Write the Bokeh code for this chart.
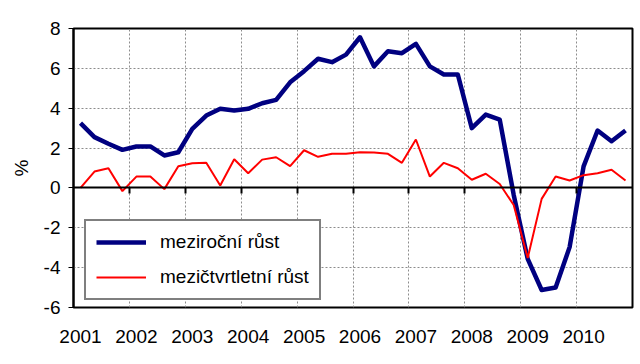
import math
from bokeh.plotting import figure
from bokeh.models import (Range1d, LinearAxis, FixedTicker, Grid, Legend, LegendItem,
                          CustomJSTickFormatter)
from bokeh.embed import file_html
from bokeh.resources import INLINE

# ---- data ----
years = ["2001", "2002", "2003", "2004", "2005", "2006", "2007", "2008", "2009", "2010"]
quarters = [f"{y} Q{q}" for y in years for q in range(1, 5)]

# meziroční růst (year-on-year growth, %)
yoy = [3.25, 2.55, 2.22, 1.91, 2.08, 2.08, 1.63, 1.79,
       2.96, 3.63, 3.97, 3.88, 3.97, 4.25, 4.42, 5.30,
       5.86, 6.48, 6.31, 6.69, 7.56, 6.10, 6.86, 6.76,
       7.23, 6.10, 5.69, 5.69, 3.00, 3.68, 3.43, -0.35,
       -3.56, -5.12, -5.00, -2.97, 1.08, 2.88, 2.34, 2.88]

# mezičtvrtletní růst (quarter-on-quarter growth, %)
qoq = [0.00, 0.82, 0.99, -0.16, 0.57, 0.57, -0.06, 1.09,
       1.24, 1.26, 0.12, 1.44, 0.74, 1.42, 1.54, 1.09,
       1.89, 1.56, 1.71, 1.71, 1.79, 1.78, 1.71, 1.26,
       2.43, 0.57, 1.26, 0.99, 0.41, 0.71, 0.20, -0.86,
       -3.52, -0.55, 0.57, 0.37, 0.64, 0.74, 0.91, 0.37]

y_ticks = [-6, -4, -2, 0, 2, 4, 6, 8]
y_tick_labels = ["-6", "-4", "-2", "0", "2", "4", "6", "8"]

# ---- derived positions ----
n = len(quarters)
xs = [i + 0.5 for i in range(n)]
year_bounds = [4 * k for k in range(1, len(years))]
year_label_pos = [4 * k + 0.5 for k in range(len(years))]

FONT = "Liberation Sans"

p = figure(frame_width=559, frame_height=279,
           min_border_left=73, min_border_top=28, min_border_right=8, min_border_bottom=5,
           x_range=Range1d(0, n), y_range=Range1d(y_ticks[0], y_ticks[-1]),
           x_axis_type=None, y_axis_type=None,
           output_backend="svg", toolbar_location=None)
p.background_fill_color = "white"
p.border_fill_color = "white"
p.outline_line_color = "black"
p.outline_line_width = 2

# grids
gx = Grid(dimension=0, ticker=FixedTicker(ticks=year_bounds),
          grid_line_color="#8c8c8c", grid_line_dash="2 2", grid_line_width=1)
gy = Grid(dimension=1, ticker=FixedTicker(ticks=y_ticks),
          grid_line_color="#8c8c8c", grid_line_dash="2 2", grid_line_width=1)
p.add_layout(gx)
p.add_layout(gy)

# y axis
ya = LinearAxis(ticker=FixedTicker(ticks=y_ticks),
                major_label_overrides={t: s for t, s in zip(y_ticks, y_tick_labels)},
                axis_label="%")
ya.axis_line_color = "black"
ya.axis_line_width = 2
ya.major_tick_line_color = "black"
ya.major_tick_line_width = 1
ya.major_tick_out = 5
ya.major_tick_in = 0
ya.minor_tick_line_color = None
ya.major_label_standoff = 8
ya.major_label_text_font = FONT
ya.major_label_text_font_size = "19px"
ya.major_label_text_color = "black"
ya.axis_label_text_font = FONT
ya.axis_label_text_font_size = "19px"
ya.axis_label_text_font_style = "normal"
ya.axis_label_text_color = "black"
ya.axis_label_standoff = 9
p.add_layout(ya, "left")

# x axis crossing at zero (ticks only)
xa0 = LinearAxis(ticker=FixedTicker(ticks=year_bounds), fixed_location=0,
                 formatter=CustomJSTickFormatter(code="return ''"))
xa0.axis_line_color = "black"
xa0.axis_line_width = 2
xa0.major_tick_line_color = "black"
xa0.major_tick_line_width = 2
xa0.major_tick_out = 6
xa0.major_tick_in = 0
xa0.minor_tick_line_color = None
xa0.major_label_text_font_size = "1px"
p.add_layout(xa0, "below")

# x labels at bottom
xa = LinearAxis(ticker=FixedTicker(ticks=year_label_pos),
                major_label_overrides={pos: y for pos, y in zip(year_label_pos, years)})
xa.axis_line_color = None
xa.major_tick_line_color = None
xa.minor_tick_line_color = None
xa.major_tick_out = 0
xa.major_tick_in = 0
xa.major_label_standoff = 22
xa.major_label_text_font = FONT
xa.major_label_text_font_size = "19px"
xa.major_label_text_color = "black"
p.add_layout(xa, "below")

# lines
r1 = p.line(xs, yoy, line_color="#000080", line_width=4.5, line_join="round")
r2 = p.line(xs, qoq, line_color="#ff0000", line_width=2)

legend = Legend(items=[LegendItem(label="meziroční růst", renderers=[r1]),
                       LegendItem(label="mezičtvrtletní růst", renderers=[r2])],
                location=(11, 7))
legend.border_line_color = "black"
legend.border_line_width = 2
legend.background_fill_color = "white"
legend.background_fill_alpha = 1
legend.label_text_font = FONT
legend.label_text_font_size = "19px"
legend.label_text_color = "black"
legend.padding = 10
legend.margin = 0
legend.spacing = 13
legend.label_height = 22
legend.glyph_height = 22
legend.glyph_width = 50
legend.label_standoff = 14
p.add_layout(legend)

open("out.html", "w").write(file_html(p, INLINE))
